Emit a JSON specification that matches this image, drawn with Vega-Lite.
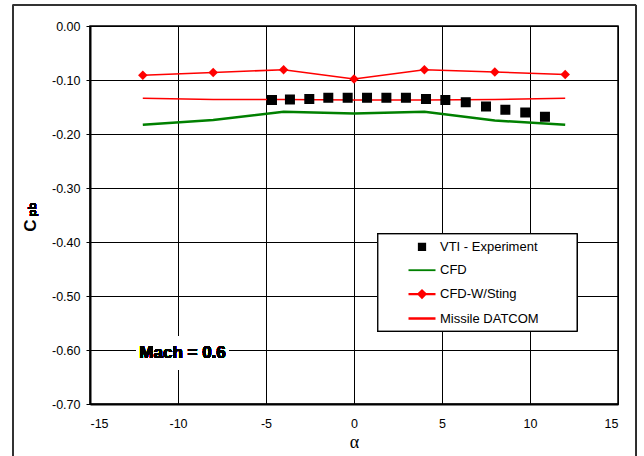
{
  "$schema": "https://vega.github.io/schema/vega-lite/v6.json",
  "width": 528,
  "height": 378,
  "autosize": {"type": "none"},
  "padding": {"left": 90, "top": 26, "right": 26, "bottom": 52},
  "background": "white",
  "config": {
    "font": "Liberation Sans",
    "view": {"stroke": "#000000", "strokeWidth": 1.5},
    "axis": {
      "labelFont": "Liberation Sans",
      "labelFontSize": 12.5,
      "labelColor": "#000000",
      "gridColor": "#000000",
      "gridOpacity": 1,
      "gridWidth": 1,
      "domainColor": "#000000",
      "domainWidth": 2,
      "tickColor": "#000000"
    },
    "legend": {
      "title": null,
      "orient": "none",
      "legendX": 309,
      "legendY": 206.3,
      "padding": 0,
      "symbolSize": 729,
      "symbolOffset": 8,
      "labelOffset": 3,
      "rowPadding": 1.4,
      "labelFont": "Liberation Sans",
      "labelFontSize": 13,
      "labelColor": "#000000",
      "symbolOpacity": 1
    }
  },
  "data": {
    "values": [
      {"series": "CFD", "alpha": -12, "cpb": -0.183},
      {"series": "CFD", "alpha": -8, "cpb": -0.174},
      {"series": "CFD", "alpha": -4, "cpb": -0.159},
      {"series": "CFD", "alpha": 0, "cpb": -0.162},
      {"series": "CFD", "alpha": 4, "cpb": -0.159},
      {"series": "CFD", "alpha": 8, "cpb": -0.175},
      {"series": "CFD", "alpha": 12, "cpb": -0.183},
      {"series": "CFD-W/Sting", "alpha": -12, "cpb": -0.091},
      {"series": "CFD-W/Sting", "alpha": -8, "cpb": -0.086},
      {"series": "CFD-W/Sting", "alpha": -4, "cpb": -0.081},
      {"series": "CFD-W/Sting", "alpha": 0, "cpb": -0.098},
      {"series": "CFD-W/Sting", "alpha": 4, "cpb": -0.081},
      {"series": "CFD-W/Sting", "alpha": 8, "cpb": -0.085},
      {"series": "CFD-W/Sting", "alpha": 12, "cpb": -0.090},
      {"series": "Missile DATCOM", "alpha": -12, "cpb": -0.134},
      {"series": "Missile DATCOM", "alpha": -8, "cpb": -0.136},
      {"series": "Missile DATCOM", "alpha": -4, "cpb": -0.136},
      {"series": "Missile DATCOM", "alpha": 0, "cpb": -0.137},
      {"series": "Missile DATCOM", "alpha": 4, "cpb": -0.137},
      {"series": "Missile DATCOM", "alpha": 8, "cpb": -0.136},
      {"series": "Missile DATCOM", "alpha": 12, "cpb": -0.134},
      {"series": "VTI - Experiment", "alpha": -4.66, "cpb": -0.137},
      {"series": "VTI - Experiment", "alpha": -3.64, "cpb": -0.136},
      {"series": "VTI - Experiment", "alpha": -2.54, "cpb": -0.135},
      {"series": "VTI - Experiment", "alpha": -1.46, "cpb": -0.133},
      {"series": "VTI - Experiment", "alpha": -0.36, "cpb": -0.133},
      {"series": "VTI - Experiment", "alpha": 0.74, "cpb": -0.133},
      {"series": "VTI - Experiment", "alpha": 1.84, "cpb": -0.133},
      {"series": "VTI - Experiment", "alpha": 2.95, "cpb": -0.133},
      {"series": "VTI - Experiment", "alpha": 4.09, "cpb": -0.135},
      {"series": "VTI - Experiment", "alpha": 5.19, "cpb": -0.137},
      {"series": "VTI - Experiment", "alpha": 6.35, "cpb": -0.141},
      {"series": "VTI - Experiment", "alpha": 7.5, "cpb": -0.149},
      {"series": "VTI - Experiment", "alpha": 8.6, "cpb": -0.155},
      {"series": "VTI - Experiment", "alpha": 9.73, "cpb": -0.160},
      {"series": "VTI - Experiment", "alpha": 10.85, "cpb": -0.168}
    ]
  },
  "layer": [
    {
      "mark": {"type": "line", "color": "#008000", "strokeWidth": 2.5},
      "transform": [{"filter": "datum.series === 'CFD'"}],
      "encoding": {
        "x": {
          "field": "alpha", "type": "quantitative",
          "scale": {"domain": [-15, 15], "nice": false, "zero": false},
          "axis": {
            "values": [-15, -10, -5, 0, 5, 10, 15],
            "grid": true,
            "tickSize": 0,
            "labelPadding": 13,
            "labelExpr": "replace(datum.label, '\u2212', '-')",
            "title": "α",
            "titleFont": "Liberation Serif",
            "titleFontSize": 18,
            "titleFontWeight": "normal",
            "titleColor": "#000000",
            "titleY": 38,
            "titleBaseline": "middle"
          }
        },
        "y": {
          "field": "cpb", "type": "quantitative",
          "scale": {"domain": [-0.7, 0], "nice": false, "zero": false},
          "axis": {
            "values": [-0.7, -0.6, -0.5, -0.4, -0.3, -0.2, -0.1, 0],
            "format": ".2f",
            "labelExpr": "replace(datum.label, '\u2212', '-')",
            "grid": true,
            "tickSize": 4,
            "labelPadding": 6,
            "title": "C",
            "titleFont": "Liberation Sans",
            "titleFontSize": 17,
            "titleFontWeight": "bold",
            "titleColor": "#000000",
            "titleAngle": 270,
            "titleX": -60,
            "titleY": 199,
            "titleAlign": "center",
            "titleBaseline": "middle"
          }
        }
      }
    },
    {
      "mark": {"type": "rect", "fill": null, "stroke": "#333333", "strokeWidth": 1, "clip": false},
      "encoding": {
        "x": {"datum": -19.37, "type": "quantitative"},
        "x2": {"datum": 16.0},
        "y": {"datum": 0.039, "type": "quantitative"},
        "y2": {"datum": -0.8}
      }
    },
    {
      "mark": {"type": "line", "color": "#FF0000", "strokeWidth": 1.5},
      "transform": [{"filter": "datum.series === 'Missile DATCOM'"}],
      "encoding": {
        "x": {"field": "alpha", "type": "quantitative"},
        "y": {"field": "cpb", "type": "quantitative"}
      }
    },
    {
      "mark": {"type": "line", "color": "#FF0000", "strokeWidth": 1.5},
      "transform": [{"filter": "datum.series === 'CFD-W/Sting'"}],
      "encoding": {
        "x": {"field": "alpha", "type": "quantitative"},
        "y": {"field": "cpb", "type": "quantitative"}
      }
    },
    {
      "mark": {"type": "point", "size": 1156, "opacity": 1},
      "transform": [{"filter": "datum.series === 'VTI - Experiment'"}],
      "encoding": {
        "x": {"field": "alpha", "type": "quantitative"},
        "y": {"field": "cpb", "type": "quantitative"},
        "fill": {
          "field": "series", "type": "nominal",
          "scale": {
            "domain": ["VTI - Experiment", "CFD", "CFD-W/Sting", "Missile DATCOM"],
            "range": ["#000000", "#008000", "#FF0000", "#FF0000"]
          }
        },
        "stroke": {
          "field": "series", "type": "nominal",
          "scale": {
            "domain": ["VTI - Experiment", "CFD", "CFD-W/Sting", "Missile DATCOM"],
            "range": ["#000000", "#008000", "#FF0000", "#FF0000"]
          }
        },
        "strokeWidth": {
          "field": "series", "type": "nominal",
          "scale": {
            "domain": ["VTI - Experiment", "CFD", "CFD-W/Sting", "Missile DATCOM"],
            "range": [1.5, 2.5, 1.5, 1.5]
          }
        },
        "shape": {
          "field": "series", "type": "nominal",
          "scale": {
            "domain": ["VTI - Experiment", "CFD", "CFD-W/Sting", "Missile DATCOM"],
            "range": [
              "M-0.25,-0.25H0.25V0.25H-0.25Z",
              "M-1,0H1",
              "M-1,0H1M0,-0.27L0.27,0L0,0.27L-0.27,0Z",
              "M-1,0H1"
            ]
          }
        }
      }
    },
    {
      "mark": {"type": "point", "shape": "diamond", "filled": true, "size": 90, "opacity": 1},
      "transform": [{"filter": "datum.series === 'CFD-W/Sting'"}],
      "encoding": {
        "x": {"field": "alpha", "type": "quantitative"},
        "y": {"field": "cpb", "type": "quantitative"},
        "fill": {"field": "series", "type": "nominal"}
      }
    },
    {
      "mark": {"type": "rect", "fill": "white", "stroke": "#000000", "strokeWidth": 1},
      "encoding": {
        "x": {"datum": 1.36, "type": "quantitative"},
        "x2": {"datum": 12.67},
        "y": {"datum": -0.385, "type": "quantitative"},
        "y2": {"datum": -0.565}
      }
    },
    {
      "mark": {"type": "rect", "fill": "white", "stroke": null},
      "encoding": {
        "x": {"datum": -12.35, "type": "quantitative"},
        "x2": {"datum": -7.15},
        "y": {"datum": -0.575, "type": "quantitative"},
        "y2": {"datum": -0.637}
      }
    },
    {
      "mark": {"type": "text", "text": "Mach = 0.6", "font": "Liberation Sans", "fontSize": 17, "fontWeight": "bold", "fill": "#000000", "align": "center", "baseline": "middle"},
      "encoding": {
        "x": {"datum": -9.74, "type": "quantitative"},
        "y": {"datum": -0.6056, "type": "quantitative"}
      }
    },
    {
      "mark": {"type": "text", "text": "pb", "font": "Liberation Sans", "fontSize": 11, "fontWeight": "bold", "fill": "#000000", "angle": 270, "align": "center", "baseline": "middle", "xOffset": -57, "clip": false},
      "encoding": {
        "x": {"datum": -15, "type": "quantitative"},
        "y": {"datum": -0.34, "type": "quantitative"}
      }
    }
  ]
}
